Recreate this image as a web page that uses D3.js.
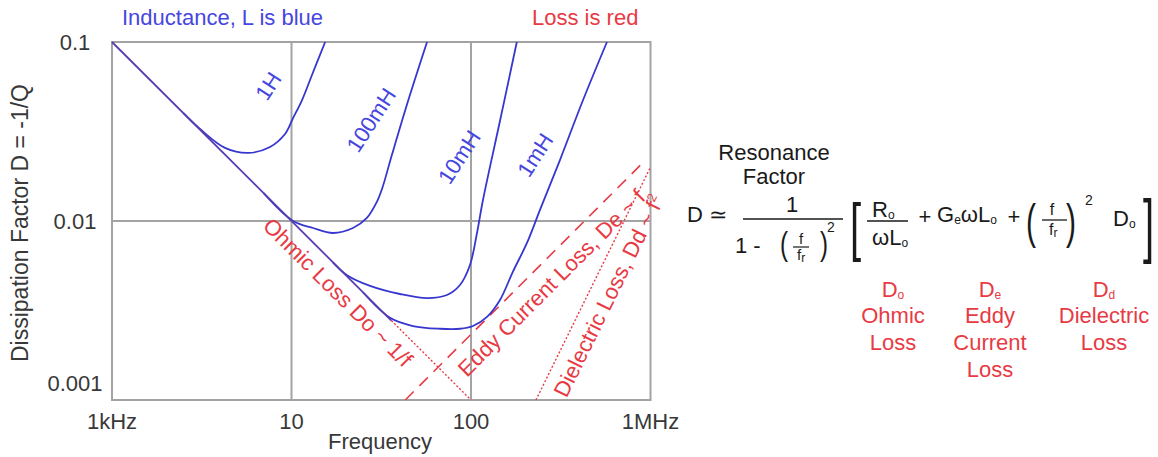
<!DOCTYPE html>
<html><head><meta charset="utf-8">
<script src="https://cdn.jsdelivr.net/npm/d3@7"></script>
<style>
html,body{margin:0;padding:0;background:#fff;}
svg{display:block;font-family:"Liberation Sans",Arial,Helvetica,sans-serif;}
</style></head><body>
<svg id="chart" width="1158" height="457"></svg>
<script>
// ---------------- data (frequency in kHz, D dimensionless) ----------------
const freqTicks = [1, 10, 100, 1000];
const freqTickLabels = ["1kHz", "10", "100", "1MHz"];
const dTicks = [0.1, 0.01, 0.001];
const dTickLabels = ["0.1", "0.01", "0.001"];

// Ohmic loss Do ~ 1/f (solid part, dotted continuation)
const ohmicSolidF = [1, 36];
const ohmicSolidD = [0.1, 0.00278];
const ohmicDotF = [36, 100];
const ohmicDotD = [0.00278, 0.001];
// Eddy current loss De ~ f
const eddyF = [43, 900];
const eddyD = [0.001, 0.021];
// Dielectric loss Dd ~ f^2
const dielF = [230, 1000];
const dielD = [0.001, 0.02];

// Inductance curves
const l1H_F = [2.5, 3.21, 4.26, 5.72, 7.59, 9.2, 10.2, 11.45, 13.2, 15.4];
const l1H_D = [0.04, 0.0316, 0.0256, 0.024, 0.0259, 0.0306, 0.0376, 0.0474, 0.068, 0.1];
const l100mH_F = [7, 10.2, 13.2, 17.0, 22.0, 26.3, 29.9, 32.0, 36.3, 44.6, 56.9];
const l100mH_D = [0.0143, 0.0100, 0.00914, 0.00857, 0.00914, 0.0104, 0.0128, 0.0152, 0.0235, 0.0468, 0.1];
const l10mH_F = [17, 20.4, 27.4, 40.2, 56.9, 73.5, 86.8, 98.7, 108, 116.6, 145, 180];
const l10mH_D = [0.00588, 0.00498, 0.00434, 0.00391, 0.00371, 0.00386, 0.00439, 0.00568, 0.00857, 0.0131, 0.0362, 0.1];
const l1mH_F = [25, 35.4, 47.5, 67.2, 86.8, 102.6, 122.8, 145, 171, 205, 242, 313, 421, 572];
const l1mH_D = [0.004, 0.00288, 0.00259, 0.0025, 0.0025, 0.00259, 0.00291, 0.00362, 0.0052, 0.00754, 0.0115, 0.0219, 0.0474, 0.1];
const curveNames = ["1H", "100mH", "10mH", "1mH"];

// loss legend
const lossSymbols = [["D", "o"], ["D", "e"], ["D", "d"]];
const lossNames = [["Ohmic", "Loss"], ["Eddy", "Current", "Loss"], ["Dielectric", "Loss"]];

// ---------------- drawing ----------------
const BLUE = "#3737d0", BLUE_TXT = "#4646e0", RED = "#e83a44", GRID = "#a3a3a3", TXT = "#383838";
const svg = d3.select("#chart");
const x = d3.scaleLog().domain([1, 1000]).range([112, 650.5]);
const y = d3.scaleLog().domain([0.001, 0.1]).range([400, 42]);
const FS = 22;

// grid + frame
const g = svg.append("g");
g.selectAll("line.vg").data([10, 100]).enter().append("line")
  .attr("x1", d => x(d)).attr("x2", d => x(d)).attr("y1", y(0.1)).attr("y2", y(0.001))
  .attr("stroke", GRID).attr("stroke-width", 2);
g.selectAll("line.hg").data([0.01]).enter().append("line")
  .attr("x1", x(1)).attr("x2", x(1000)).attr("y1", d => y(d)).attr("y2", d => y(d))
  .attr("stroke", GRID).attr("stroke-width", 2);
g.append("rect").attr("x", x(1)).attr("y", y(0.1)).attr("width", x(1000) - x(1)).attr("height", y(0.001) - y(0.1))
  .attr("fill", "none").attr("stroke", GRID).attr("stroke-width", 2);

// tick labels
g.selectAll("text.xt").data(freqTicks).enter().append("text")
  .attr("x", d => x(d)).attr("y", 429).attr("text-anchor", "middle")
  .attr("font-size", FS).attr("fill", TXT).text((d, i) => freqTickLabels[i]);
g.selectAll("text.yt").data(dTicks).enter().append("text")
  .attr("x", 75).attr("y", (d, i) => y(d) + (i === 2 ? -17 : 0)).attr("dy", "0.36em")
  .attr("text-anchor", "middle").attr("font-size", FS).attr("fill", TXT).text((d, i) => dTickLabels[i]);
g.append("text").attr("x", 380).attr("y", 449).attr("text-anchor", "middle")
  .attr("font-size", FS).attr("fill", TXT).text("Frequency");
g.append("text").attr("transform", "translate(28,223) rotate(-90)").attr("text-anchor", "middle")
  .attr("font-size", 23).attr("fill", TXT).text("Dissipation Factor D = -1/Q");

// header texts
g.append("text").attr("x", 122).attr("y", 25).attr("font-size", FS).attr("fill", BLUE_TXT).text("Inductance, L is blue");
g.append("text").attr("x", 532).attr("y", 25).attr("font-size", FS).attr("fill", RED).text("Loss is red");

const zip = (F, D) => F.map((f, i) => [f, D[i]]);
const straight = d3.line().x(d => x(d[0])).y(d => y(d[1]));
const smooth = d3.line().x(d => x(d[0])).y(d => y(d[1])).curve(d3.curveCatmullRom.alpha(0.5));

// loss lines
g.append("path").attr("d", straight(zip(ohmicDotF, ohmicDotD))).attr("fill", "none")
  .attr("stroke", RED).attr("stroke-width", 1.4).attr("stroke-dasharray", "2,2");
g.append("path").attr("d", straight(zip(eddyF, eddyD))).attr("fill", "none")
  .attr("stroke", RED).attr("stroke-width", 1.6).attr("stroke-dasharray", "12,8");
g.append("path").attr("d", straight(zip(dielF, dielD))).attr("fill", "none")
  .attr("stroke", RED).attr("stroke-width", 1.4).attr("stroke-dasharray", "2,2");

// inductance curves
const curves = [zip(l1H_F, l1H_D), zip(l100mH_F, l100mH_D), zip(l10mH_F, l10mH_D), zip(l1mH_F, l1mH_D)];
g.selectAll("path.ind").data(curves).enter().append("path")
  .attr("d", d => smooth(d)).attr("fill", "none").attr("stroke", BLUE).attr("stroke-width", 1.8);
// ohmic solid line (blue over red = purple)
g.append("path").attr("d", straight(zip(ohmicSolidF, ohmicSolidD))).attr("fill", "none")
  .attr("stroke", "#5a3cb0").attr("stroke-width", 1.8);

// curve labels
const curveLabelPos = [[7.4, 0.0568], [27.7, 0.0367], [85.7, 0.0228], [227, 0.0234]];
g.selectAll("text.cl").data(curveNames).enter().append("text")
  .attr("transform", (d, i) => `translate(${x(curveLabelPos[i][0])},${y(curveLabelPos[i][1])}) rotate(-57)`)
  .attr("text-anchor", "middle").attr("dy", "0.36em").attr("font-size", FS).attr("fill", BLUE_TXT).text(d => d);

// labels along loss lines
function lineLabel(fs, Ds, fa, off, parts) {
  const p0 = [x(fs[0]), y(Ds[0])], p1 = [x(fs[1]), y(Ds[1])];
  const a = Math.atan2(p1[1] - p0[1], p1[0] - p0[0]);
  const k = Math.log(Ds[1] / Ds[0]) / Math.log(fs[1] / fs[0]);
  const Da = Ds[0] * Math.pow(fa / fs[0], k);
  const ux = Math.sin(a), uy = -Math.cos(a);
  const cx = x(fa) - off * ux, cy = y(Da) - off * uy;
  const t = g.append("text").attr("transform", `translate(${cx},${cy}) rotate(${a * 180 / Math.PI})`)
    .attr("text-anchor", "middle").attr("dy", "0.36em").attr("font-size", FS).attr("fill", RED);
  parts.forEach(p => {
    const s = t.append("tspan").text(p.t);
    if (p.sup) s.attr("font-size", 13).attr("dy", "-0.6em");
  });
}
lineLabel([1, 100], [0.1, 0.001], 21.3, 17.5, [{t: "Ohmic Loss Do ~ 1/f"}]);
lineLabel(eddyF, eddyD, 233, 20, [{t: "Eddy Current Loss, De ~ f"}]);
lineLabel(dielF, dielD, 468, 19, [{t: "Dielectric Loss, Dd ~ f"}, {t: "2", sup: true}]);

// ---------------- equation ----------------
const eq = svg.append("g").attr("fill", "#1a1a1a").attr("font-size", FS);
function rich(xp, yp, parts, anchor) {
  const t = eq.append("text").attr("x", xp).attr("y", yp).attr("text-anchor", anchor || "start");
  parts.forEach(p => {
    const s = t.append("tspan").text(p[0]);
    if (p[1] === "sub") s.attr("font-size", 12).attr("dy", 2);
    if (p[1] === "resub") s.attr("dy", -2);
  });
  return t;
}
function bar(x1, x2, yy, w) {
  eq.append("line").attr("x1", x1).attr("x2", x2).attr("y1", yy).attr("y2", yy)
    .attr("stroke", "#1a1a1a").attr("stroke-width", w || 1.4);
}
function paren(ch, xp, yBase, fs, sy) {
  eq.append("text").attr("transform", `translate(${xp},${yBase}) scale(1,${sy})`)
    .attr("font-size", fs).attr("font-weight", 300).text(ch);
}
eq.append("text").attr("x", 774).attr("y", 160).attr("text-anchor", "middle").text("Resonance");
eq.append("text").attr("x", 774).attr("y", 184).attr("text-anchor", "middle").text("Factor");
eq.append("text").attr("x", 687).attr("y", 222).text("D");
eq.append("text").attr("x", 709).attr("y", 222).text("\u2243");
eq.append("text").attr("x", 792).attr("y", 212).attr("text-anchor", "middle").text("1");
bar(743, 843, 219, 1.6);
eq.append("text").attr("x", 735).attr("y", 253).text("1 -");
paren("(", 780, 255, 24, 1.35);
eq.append("text").attr("x", 801).attr("y", 244).attr("text-anchor", "middle").attr("font-size", 15).text("f");
bar(793, 809, 247, 1.2);
rich(797, 260, [["f"], ["r", "sub"]]).attr("font-size", 15);
paren(")", 820, 255, 24, 1.35);
eq.append("text").attr("x", 827).attr("y", 232).attr("font-size", 14).text("2");

paren("[", 850, 249, 40, 1.6);
rich(872, 217, [["R"], ["o", "sub"]]);
bar(867, 908, 221, 1.4);
rich(872, 245, [["\u03c9L"], ["o", "sub"]]);
eq.append("text").attr("x", 925).attr("y", 224).attr("text-anchor", "middle").text("+");
rich(937, 222, [["G"], ["e", "sub"], ["\u03c9L", "resub"], ["o", "sub"]]);
eq.append("text").attr("x", 1014).attr("y", 224).attr("text-anchor", "middle").text("+");
paren("(", 1026, 238, 30, 1.6);
eq.append("text").attr("x", 1052).attr("y", 215).attr("text-anchor", "middle").attr("font-size", 16).text("f");
bar(1042, 1067, 220, 1.3);
rich(1049, 235, [["f"], ["r", "sub"]]).attr("font-size", 16);
paren(")", 1066, 238, 30, 1.6);
eq.append("text").attr("x", 1085).attr("y", 205).attr("font-size", 14).text("2");
rich(1113, 226, [["D"], ["o", "sub"]]);
paren("]", 1143, 249, 40, 1.75);

// loss legend
const lossX = [893, 990, 1104];
const leg = svg.append("g").attr("fill", RED).attr("font-size", FS).attr("text-anchor", "middle");
lossSymbols.forEach((s, i) => {
  const t = leg.append("text").attr("x", lossX[i]).attr("y", 297);
  t.append("tspan").text(s[0]);
  t.append("tspan").attr("font-size", 12).attr("dy", 2).text(s[1]);
  lossNames[i].forEach((n, j) => {
    leg.append("text").attr("x", lossX[i]).attr("y", 323 + j * 27).text(n);
  });
});
</script>
</body></html>
